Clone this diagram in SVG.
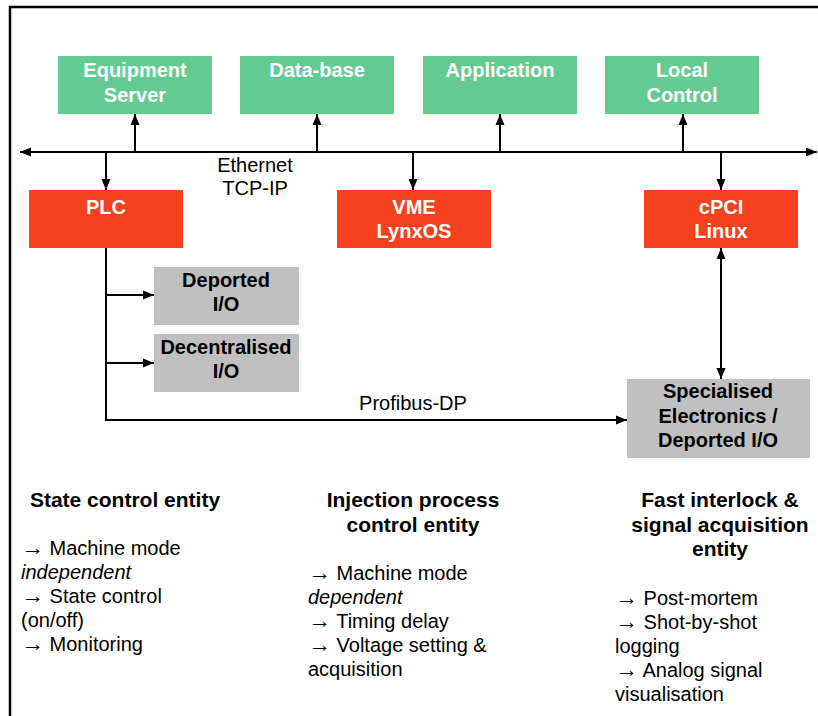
<svg xmlns="http://www.w3.org/2000/svg" width="818" height="716" viewBox="0 0 818 716">
<style>
.g{fill:#63CB91}
.r{fill:#F5411E}
.y{fill:#C0C0C0}
text{font-family:"Liberation Sans",Arial,sans-serif;font-size:20px}
.w{fill:#fff;font-weight:bold;text-anchor:middle}
.b{fill:#000;font-weight:bold;text-anchor:middle}
.h{font-size:21px}
.c{text-anchor:middle}
.a{font-size:23px}
.ln{stroke:#000;stroke-width:2;fill:none}
</style>
<defs>
<marker id="ah" markerUnits="userSpaceOnUse" markerWidth="11" markerHeight="10" refX="11" refY="5" orient="auto-start-reverse" viewBox="0 0 11 10">
<path d="M0,0.5 L11,5 L0,9.5 z" fill="#000"/>
</marker>
</defs>
<rect width="818" height="716" fill="#fff"/>
<path d="M10,716 V7 H818" stroke="#000" stroke-width="2.5" fill="none"/>

<g id="connectors">
<line class="ln" x1="30" y1="152" x2="807" y2="152"/>
<line class="ln" x1="30" y1="152" x2="20" y2="152" marker-end="url(#ah)"/>
<line class="ln" x1="800" y1="152" x2="817" y2="152" marker-end="url(#ah)"/>
<line class="ln" x1="135" y1="152" x2="135" y2="114" marker-end="url(#ah)"/>
<line class="ln" x1="317" y1="152" x2="317" y2="114" marker-end="url(#ah)"/>
<line class="ln" x1="500" y1="152" x2="500" y2="114" marker-end="url(#ah)"/>
<line class="ln" x1="683" y1="152" x2="683" y2="114" marker-end="url(#ah)"/>
<line class="ln" x1="106" y1="152" x2="106" y2="190" marker-end="url(#ah)"/>
<line class="ln" x1="413" y1="152" x2="413" y2="190" marker-end="url(#ah)"/>
<line class="ln" x1="721" y1="152" x2="721" y2="190" marker-end="url(#ah)"/>
<line class="ln" x1="721" y1="248" x2="721" y2="379" marker-start="url(#ah)" marker-end="url(#ah)"/>
<path class="ln" d="M106,248 V420 H627" marker-end="url(#ah)"/>
<line class="ln" x1="106" y1="295" x2="154" y2="295" marker-end="url(#ah)"/>
<line class="ln" x1="106" y1="363" x2="154" y2="363" marker-end="url(#ah)"/>
<text x="255" y="172" class="c">Ethernet</text>
<text x="255" y="195" class="c">TCP-IP</text>
<text x="413" y="410" class="c">Profibus-DP</text>
</g>

<g id="equipment-server"><rect class="g" x="58" y="56" width="154" height="58"/><text class="w" x="135" y="77">Equipment</text><text class="w" x="135" y="102">Server</text></g>
<g id="database"><rect class="g" x="240" y="56" width="154" height="58"/><text class="w" x="317" y="77">Data-base</text></g>
<g id="application"><rect class="g" x="423" y="56" width="154" height="58"/><text class="w" x="500" y="77">Application</text></g>
<g id="local-control"><rect class="g" x="605" y="56" width="154" height="58"/><text class="w" x="682" y="77">Local</text><text class="w" x="682" y="102">Control</text></g>

<g id="plc"><rect class="r" x="29" y="190" width="154" height="58"/><text class="w" x="106" y="214">PLC</text></g>
<g id="vme"><rect class="r" x="337" y="190" width="154" height="58"/><text class="w" x="414" y="214">VME</text><text class="w" x="414" y="238">LynxOS</text></g>
<g id="cpci"><rect class="r" x="644" y="190" width="154" height="58"/><text class="w" x="721" y="214">cPCI</text><text class="w" x="721" y="238">Linux</text></g>

<g id="deported-io"><rect class="y" x="154" y="267" width="145" height="58"/><text class="b" x="226" y="287">Deported</text><text class="b" x="226" y="311">I/O</text></g>
<g id="decentralised-io"><rect class="y" x="154" y="334" width="145" height="58"/><text class="b" x="226" y="354">Decentralised</text><text class="b" x="226" y="378">I/O</text></g>
<g id="specialised"><rect class="y" x="627" y="379" width="183" height="79"/><text class="b" x="718" y="398">Specialised</text><text class="b" x="718" y="423">Electronics /</text><text class="b" x="718" y="447">Deported I/O</text></g>

<g id="col1">
<text class="b h" x="125" y="507">State control entity</text>
<text x="21" y="555"><tspan class="a">→</tspan> Machine mode</text>
<text x="21" y="579" font-style="italic">independent</text>
<text x="21" y="603"><tspan class="a">→</tspan> State control</text>
<text x="21" y="627">(on/off)</text>
<text x="21" y="651"><tspan class="a">→</tspan> Monitoring</text>
</g>
<g id="col2">
<text class="b h" x="413" y="507">Injection process</text>
<text class="b h" x="413" y="532">control entity</text>
<text x="308" y="580"><tspan class="a">→</tspan> Machine mode</text>
<text x="308" y="604" font-style="italic">dependent</text>
<text x="308" y="628"><tspan class="a">→</tspan> Timing delay</text>
<text x="308" y="652"><tspan class="a">→</tspan> Voltage setting &amp;</text>
<text x="308" y="676">acquisition</text>
</g>
<g id="col3">
<text class="b h" x="720" y="507">Fast interlock &amp;</text>
<text class="b h" x="720" y="532">signal acquisition</text>
<text class="b h" x="720" y="556">entity</text>
<text x="615" y="605"><tspan class="a">→</tspan> Post-mortem</text>
<text x="615" y="629"><tspan class="a">→</tspan> Shot-by-shot</text>
<text x="615" y="653">logging</text>
<text x="615" y="677"><tspan class="a">→</tspan> Analog signal</text>
<text x="615" y="701">visualisation</text>
</g>
</svg>
